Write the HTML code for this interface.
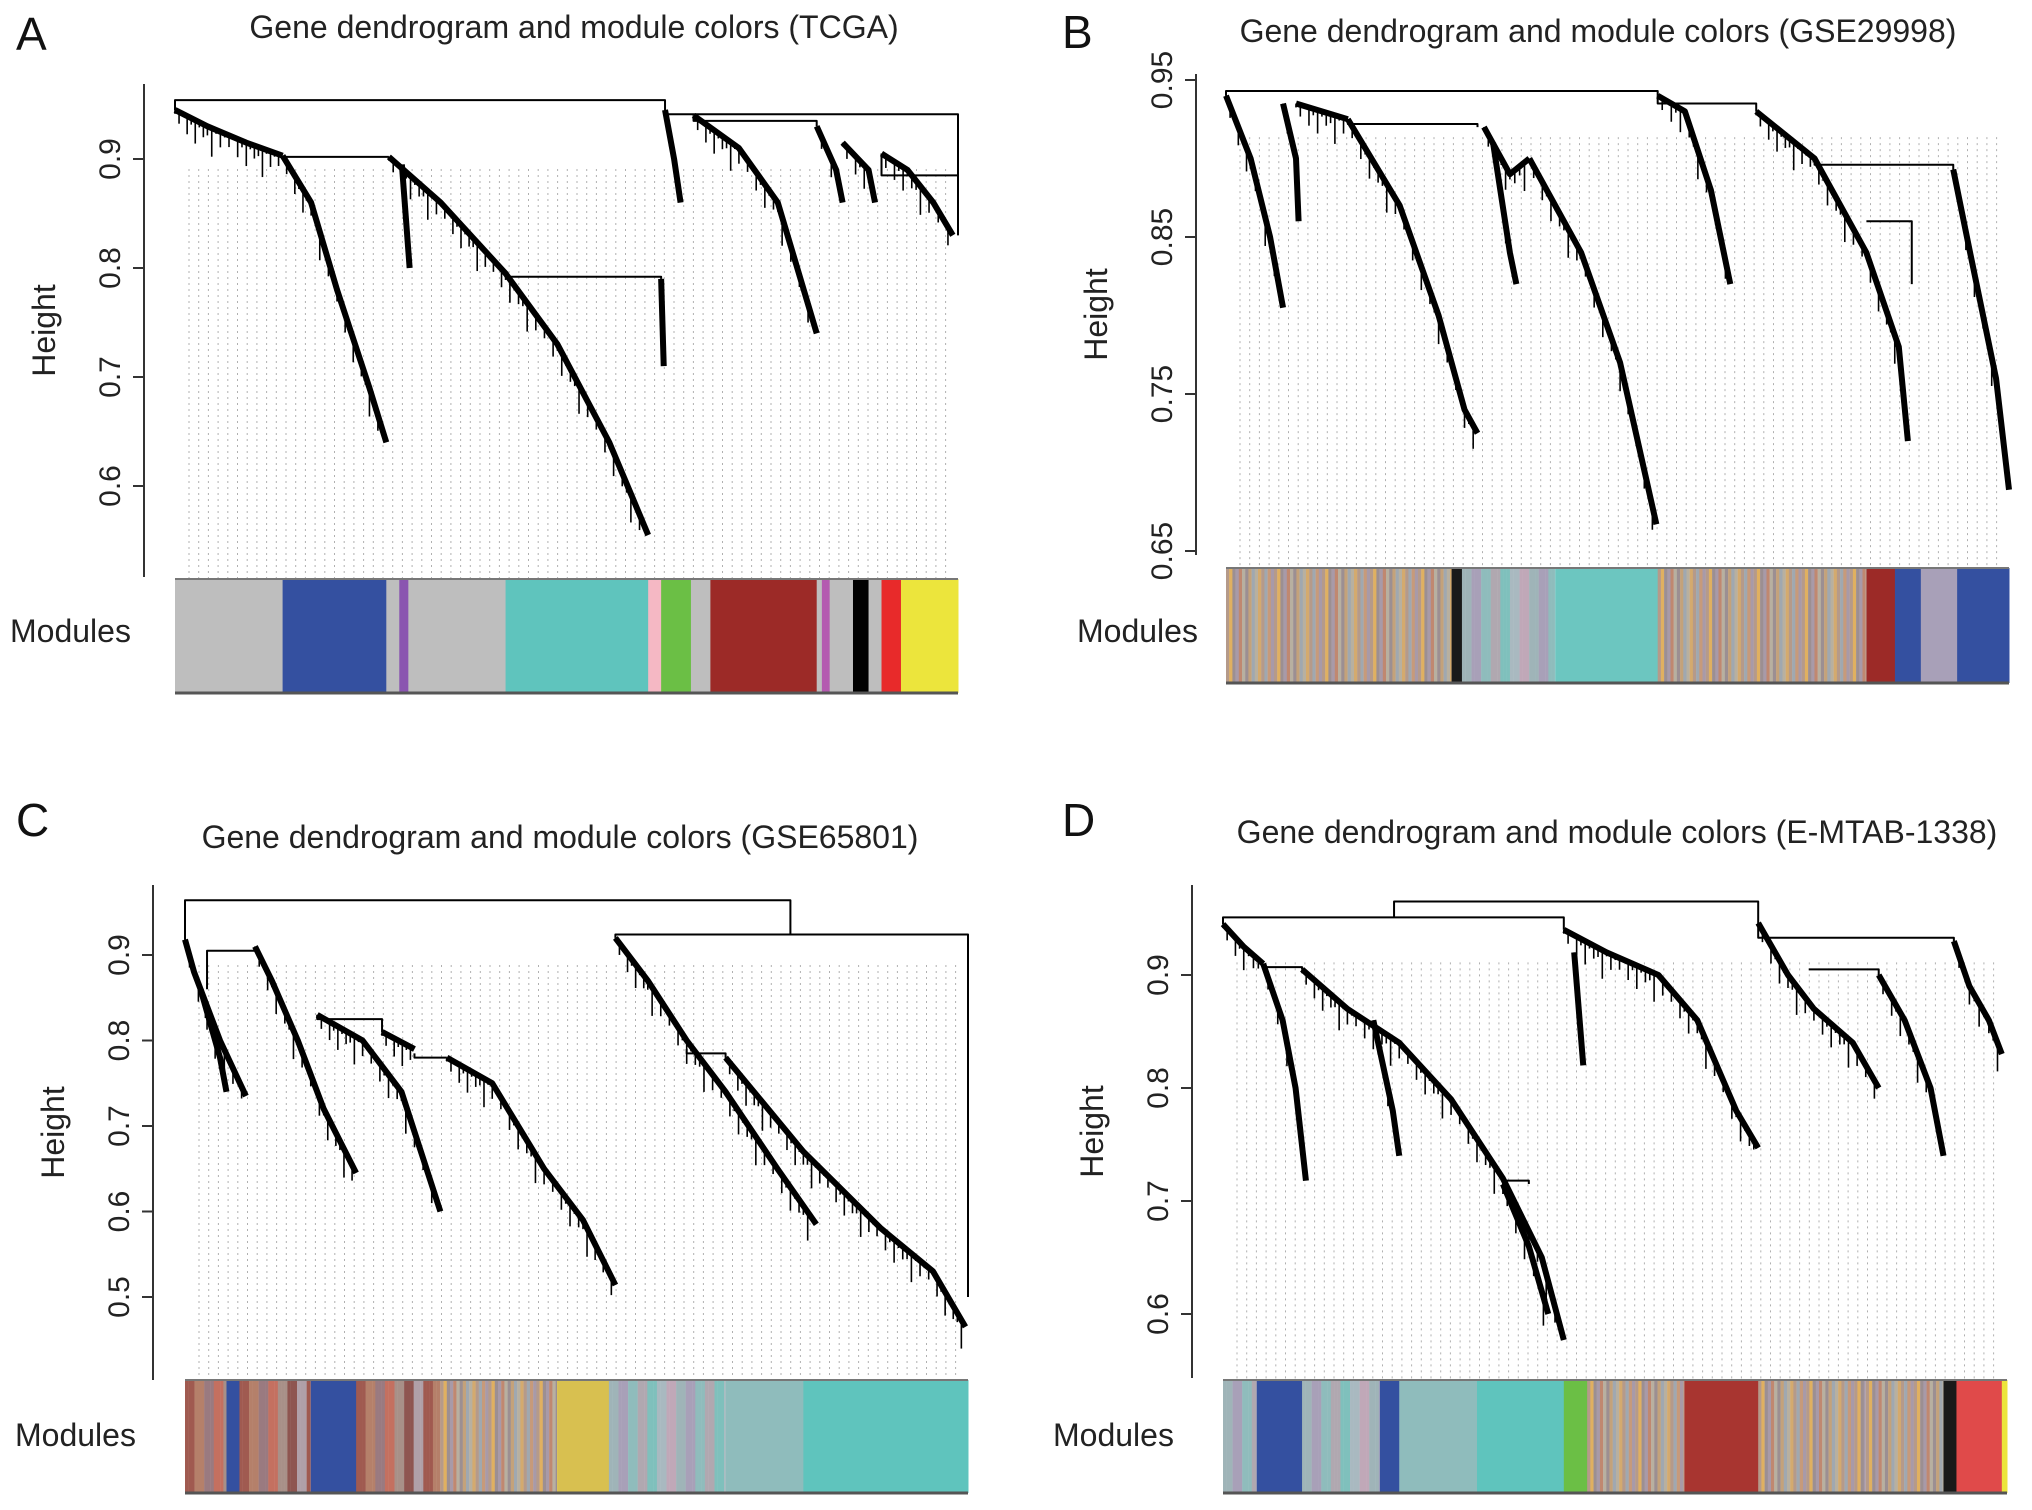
<!DOCTYPE html>
<html><head><meta charset="utf-8"><style>
html,body{margin:0;padding:0;background:#fff}
svg{display:block;font-family:"Liberation Sans",Arial,sans-serif}
</style></head><body>
<svg id="fig" width="2032" height="1510" viewBox="0 0 2032 1510" xmlns="http://www.w3.org/2000/svg"></svg>
<script>
// ---- data (leaf positions in leaf-order units, heights in dendrogram height units) ----
const titles = ["Gene dendrogram and module colors (TCGA)","Gene dendrogram and module colors (GSE29998)","Gene dendrogram and module colors (GSE65801)","Gene dendrogram and module colors (E-MTAB-1338)"];
const panelLetters = ["A","B","C","D"];
const ticksA = [0.6,0.7,0.8,0.9];
const ticksB = [0.65,0.75,0.85,0.95];
const ticksC = [0.5,0.6,0.7,0.8,0.9];
const ticksD = [0.6,0.7,0.8,0.9];
const spinesA = [
 [[135,0.945],[160,0.93],[190,0.915],[218,0.903]],
 [[218,0.903],[240,0.86],[260,0.78],[285,0.69],[298,0.64]],
 [[300,0.902],[340,0.86],[390,0.795],[430,0.73],[470,0.64],[500,0.555]],
 [[310,0.895],[316,0.80]],
 [[510,0.79],[512,0.71]],
 [[513,0.945],[520,0.90],[525,0.86]],
 [[535,0.94],[570,0.91],[600,0.86],[630,0.74]],
 [[630,0.93],[645,0.89],[650,0.86]],
 [[650,0.915],[670,0.89],[675,0.86]],
 [[680,0.905],[700,0.89],[720,0.86],[735,0.83]]
];
const bracketsA = [[135,0.945,513,0.945,0.954],[218,0.903,300,0.902,0.902],[390,0.795,510,0.79,0.792],[513,0.945,739,0.83,0.941],[535,0.94,630,0.93,0.935],[680,0.905,739,0.83,0.885]];
const spinesB = [
 [[946,0.94],[965,0.90],[980,0.85],[990,0.805]],
 [[990,0.935],[1000,0.90],[1002,0.86]],
 [[1000,0.935],[1040,0.925]],
 [[1040,0.925],[1080,0.87],[1110,0.80],[1130,0.74],[1140,0.725]],
 [[1145,0.92],[1165,0.89],[1180,0.90]],
 [[1180,0.90],[1220,0.84],[1250,0.77],[1278,0.667]],
 [[1152,0.91],[1165,0.84],[1170,0.82]],
 [[1279,0.94],[1300,0.93],[1320,0.88],[1335,0.82]],
 [[1355,0.93],[1400,0.90],[1440,0.84],[1465,0.78],[1472,0.72]],
 [[1507,0.893],[1520,0.84],[1540,0.76],[1550,0.689]]
];
const bracketsB = [[946,0.94,1279,0.94,0.943],[1040,0.925,1140,0.92,0.922],[1279,0.94,1355,0.93,0.935],[1400,0.90,1507,0.893,0.896],[1440,0.86,1475,0.82,0.86]];
const spinesC = [
 [[143,0.918],[150,0.88],[160,0.84],[170,0.80],[190,0.735]],
 [[155,0.86],[170,0.78],[175,0.74]],
 [[197,0.91],[210,0.87],[230,0.80],[250,0.72],[275,0.645]],
 [[245,0.83],[280,0.80],[310,0.74],[340,0.60]],
 [[295,0.81],[320,0.79]],
 [[345,0.78],[380,0.75],[420,0.65],[450,0.59],[475,0.514]],
 [[475,0.92],[500,0.87],[530,0.80],[560,0.74],[600,0.65],[630,0.585]],
 [[560,0.78],[620,0.67],[680,0.58],[720,0.53],[745,0.465]]
];
const bracketsC = [[143,0.918,610,0.924,0.964],[475,0.92,747,0.50,0.924],[160,0.86,197,0.91,0.905],[245,0.83,295,0.81,0.825],[320,0.785,345,0.78,0.78],[530,0.79,560,0.78,0.785]];
const spinesD = [
 [[944,0.945],[960,0.925],[975,0.91]],
 [[975,0.91],[990,0.86],[1000,0.80],[1008,0.718]],
 [[1005,0.905],[1040,0.87],[1080,0.84],[1120,0.79],[1160,0.72],[1190,0.65],[1207,0.577]],
 [[1060,0.86],[1075,0.78],[1080,0.74]],
 [[1160,0.715],[1180,0.66],[1195,0.60]],
 [[1207,0.94],[1240,0.92],[1280,0.90],[1310,0.86],[1340,0.78],[1357,0.747]],
 [[1215,0.92],[1222,0.82]],
 [[1357,0.946],[1380,0.90],[1400,0.87],[1430,0.84],[1450,0.80]],
 [[1450,0.90],[1470,0.86],[1490,0.80],[1500,0.74]],
 [[1508,0.93],[1520,0.89],[1535,0.86],[1545,0.83]]
];
const bracketsD = [[1076,0.951,1357,0.946,0.965],[944,0.945,1207,0.94,0.951],[975,0.91,1005,0.905,0.907],[1357,0.946,1508,0.93,0.933],[1396,0.905,1450,0.90,0.905],[1160,0.72,1180,0.715,0.718]];
const modulesA = [[135,218,"#bebebe"],[218,298,"#3450a0"],[298,308,"#bebebe"],[308,315,"#8a55b0"],[315,390,"#bebebe"],[390,500,"#5fc4bd"],[500,510,"#f5b8c4"],[510,533,"#6bbf45"],[533,548,"#bebebe"],[548,630,"#9c2a27"],[630,634,"#bebebe"],[634,640,"#b45ab0"],[640,658,"#bebebe"],[658,670,"#000000"],[670,680,"#bebebe"],[680,695,"#e82a2a"],[695,739,"#ece53c"]];
const modulesB = [[946,1120,"warm"],[1120,1128,"#1a1a1a"],[1128,1200,"cool"],[1200,1279,"#6cc6c0"],[1279,1440,"warm"],[1440,1462,"#9c2a27"],[1462,1482,"#3450a0"],[1482,1510,"#a8a0b8"],[1510,1550,"#3450a0"]];
const modulesC = [[143,175,"brownred"],[175,185,"#3450a0"],[185,240,"brownred"],[240,275,"#3450a0"],[275,340,"brownred"],[340,430,"warm"],[430,470,"#d8c050"],[470,560,"cool"],[560,620,"#8fbcbc"],[620,747,"#5fc4bd"]];
const modulesD = [[944,970,"cool"],[970,1005,"#3450a0"],[1005,1065,"cool"],[1065,1080,"#3450a0"],[1080,1140,"#8fbcbc"],[1140,1207,"#5fc4bd"],[1207,1225,"#6bbf45"],[1225,1300,"warm"],[1300,1357,"#a83530"],[1357,1440,"warm"],[1440,1500,"warm"],[1500,1510,"#1a1a1a"],[1510,1545,"#e04a4a"],[1545,1549,"#ece53c"]];
const palettes = {
 warm:['#b59a8a','#c4a27a','#a89aa8','#d4aa6e','#9c8f92','#c79a7a','#b8b0a0','#e0b060','#a0a8b0','#c08870'],
 cool:['#9fb4b8','#a8a0b8','#8fbcbc','#b0a8b0','#7fc0bc','#a9b9c0','#c0a8b8'],
 brownred:['#a05a50','#b5806a','#9a7a80','#c47060','#a89088','#8e5550','#b0a0a8']
};
// ---- layout ----
const panels = [
 {ticks:ticksA,spines:spinesA,brackets:bracketsA,modules:modulesA,ovL:135,ovR:739,pL:175,pR:958,refH:0.9,refY:159,per:1090,axisX:144,axT:84,axB:577,barT:579,barB:693,dotH:0.90,titleX:574,titleY:38,letX:16,letY:50,modX:10,modY:642},
 {ticks:ticksB,spines:spinesB,brackets:bracketsB,modules:modulesB,ovL:946,ovR:1550,pL:1226,pR:2009,refH:0.95,refY:80,per:1570,axisX:1196,axT:74,axB:555,barT:568,barB:683,dotH:0.92,titleX:1598,titleY:42,letX:1062,letY:48,modX:1077,modY:642},
 {ticks:ticksC,spines:spinesC,brackets:bracketsC,modules:modulesC,ovL:143,ovR:747,pL:185,pR:968,refH:0.9,refY:955,per:855,axisX:153,axT:885,axB:1380,barT:1380,barB:1493,dotH:0.90,titleX:560,titleY:848,letX:16,letY:836,modX:15,modY:1446},
 {ticks:ticksD,spines:spinesD,brackets:bracketsD,modules:modulesD,ovL:944,ovR:1549,pL:1223,pR:2007,refH:0.9,refY:975,per:1130,axisX:1192,axT:885,axB:1378,barT:1380,barB:1493,dotH:0.92,titleX:1617,titleY:843,letX:1062,letY:836,modX:1053,modY:1446}
];
const NS="http://www.w3.org/2000/svg";
const fig=document.getElementById('fig');
function mk(tag,attrs,parent){const e=document.createElementNS(NS,tag);for(const k in attrs)e.setAttribute(k,attrs[k]);(parent||fig).appendChild(e);return e;}
const jag=[3,9,2,14,5,18,4,10,7,22,3,12];
panels.forEach((p,i)=>{
 const g=mk('g',{});
 
 
 const X=v=>p.pL+(v-p.ovL)/(p.ovR-p.ovL)*(p.pR-p.pL);
 const Y=h=>p.refY+(p.refH-h)*p.per;
 const L=mk('text',{x:p.letX,y:p.letY,'font-size':46,fill:'#111'},g);L.textContent=panelLetters[i];
 
 
 const T=mk('text',{x:p.titleX,y:p.titleY,'font-size':32,'text-anchor':'middle',fill:'#222'},g);T.textContent=titles[i];
 
 
 const dg=mk('g',{stroke:'#b0b0b0','stroke-width':1,'stroke-dasharray':'2 4'},g);
 
 
 for(let x=p.pL+14;x<p.pR-4;x+=9.7){mk('line',{x1:x,x2:x,y1:Y(p.dotH)+10,y2:p.barT},dg);}
 const ax=mk('g',{stroke:'#333','stroke-width':2},g);
 
 
 mk('line',{x1:p.axisX,x2:p.axisX,y1:p.axT,y2:p.axB},ax);
 p.ticks.forEach(t=>{
  const y=Y(t);
  mk('line',{x1:p.axisX-11,x2:p.axisX,y1:y,y2:y},ax);
  const tl=mk('text',{x:0,y:0,'font-size':30,'text-anchor':'middle',fill:'#222',stroke:'none',transform:`translate(${p.axisX-24},${y}) rotate(-90)`},g);
  tl.textContent=String(t);
  
  
 });
 const yt=mk('text',{x:0,y:0,'font-size':32,'text-anchor':'middle',fill:'#222',transform:`translate(${p.axisX-89},${(p.axT+p.axB)/2}) rotate(-90)`},g);
 yt.textContent='Height';
 
 
 const dd=mk('g',{stroke:'#000',fill:'none','stroke-linejoin':'round'},g);
 
 
 p.brackets.forEach(b=>{
  const x1=X(b[0]),x2=X(b[2]),y=Y(b[4]);
  const e=mk('path',{d:`M${x1},${Y(b[1])}V${y}H${x2}V${Y(b[3])}`,'stroke-width':2},dd);
  
  
 });
 p.spines.forEach(s=>{
  const pts=s.map(q=>[X(q[0]),Y(q[1])]);
  const e=mk('path',{d:'M'+pts.map(q=>q.join(',')).join('L'),'stroke-width':6},dd);
  
  
  let k=0;
  for(let j=0;j<pts.length-1;j++){
   const [ax_,ay]=pts[j],[bx,by]=pts[j+1];
   const n=Math.max(1,Math.floor(Math.abs(bx-ax_)/4));
   for(let m=0;m<n;m++){const t=m/n;const x=ax_+(bx-ax_)*t,y=ay+(by-ay)*t;
    mk('line',{x1:x,x2:x,y1:y,y2:y+jag[k++%jag.length]*1.3,'stroke-width':1.6},dd);}
  }
 });
 const mg=mk('g',{},g);
 
 
 p.modules.forEach(m=>{
  const x1=X(m[0]),x2=X(m[1]);
  if(palettes[m[2]]){const pal=palettes[m[2]];let c=0;
   for(let x=x1;x<x2;x+=3.2){const r=mk('rect',{x:x,y:p.barT,width:Math.min(3.4,x2-x),height:p.barB-p.barT,fill:pal[(c*7+Math.floor(c/3))%pal.length]},mg);c++;
    
    }
  } else {
   const r=mk('rect',{x:x1,y:p.barT,width:x2-x1+0.5,height:p.barB-p.barT,fill:m[2]},mg);
   
   
  }
 });
 mk('line',{x1:p.pL,x2:p.pR,y1:p.barT,y2:p.barT,stroke:'#777','stroke-width':2},mg);
 mk('line',{x1:p.pL,x2:p.pR,y1:p.barB,y2:p.barB,stroke:'#555','stroke-width':3},mg);
 const mt=mk('text',{x:p.modX,y:p.modY,'font-size':32,fill:'#222'},g);
 mt.textContent='Modules';
 
 
});
</script>
</body></html>
